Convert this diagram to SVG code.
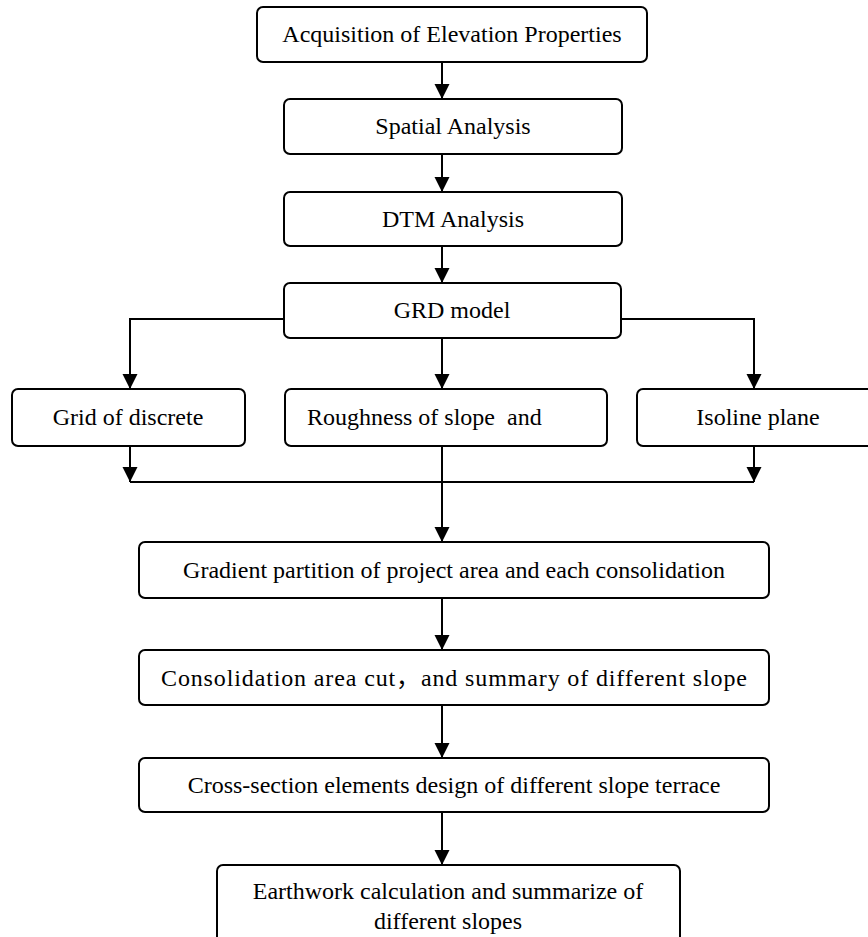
<svg xmlns="http://www.w3.org/2000/svg" width="868" height="937" viewBox="0 0 868 937">
  <style>
    .box { fill: #ffffff; stroke: #000000; stroke-width: 2; }
    .lbl { font-size: 24px; fill: #000000; }
    .mid { text-anchor: middle; }
    .ln { fill: none; stroke: #000000; stroke-width: 2; }
  </style>
  <defs>
    <marker id="ah" markerUnits="userSpaceOnUse" markerWidth="16" markerHeight="16" refX="15" refY="7.5" orient="auto">
      <path d="M0,0 L15,7.5 L0,15 Z" fill="#000000"/>
    </marker>
    <clipPath id="clipEarth">
      <rect x="217" y="865" width="463" height="72"/>
    </clipPath>
  </defs>
  <rect width="868" height="937" fill="#ffffff"/>

  <g id="connectors">
    <line class="ln" x1="442" y1="62" x2="442" y2="99" marker-end="url(#ah)"/>
    <line class="ln" x1="442" y1="154" x2="442" y2="192" marker-end="url(#ah)"/>
    <line class="ln" x1="442" y1="246" x2="442" y2="283" marker-end="url(#ah)"/>
    <polyline class="ln" points="284,319 130,319 130,389" marker-end="url(#ah)"/>
    <line class="ln" x1="442" y1="338" x2="442" y2="389" marker-end="url(#ah)"/>
    <polyline class="ln" points="621,319 754,319 754,389" marker-end="url(#ah)"/>
    <line class="ln" x1="130" y1="446" x2="130" y2="482" marker-end="url(#ah)"/>
    <line class="ln" x1="754" y1="446" x2="754" y2="482" marker-end="url(#ah)"/>
    <line class="ln" x1="130" y1="482" x2="754" y2="482"/>
    <line class="ln" x1="442" y1="446" x2="442" y2="542" marker-end="url(#ah)"/>
    <line class="ln" x1="442" y1="598" x2="442" y2="650" marker-end="url(#ah)"/>
    <line class="ln" x1="442" y1="705" x2="442" y2="758" marker-end="url(#ah)"/>
    <line class="ln" x1="442" y1="812" x2="442" y2="865" marker-end="url(#ah)"/>
  </g>

  <g font-family="'Liberation Serif', 'Times New Roman', serif">
  <g id="n1">
    <rect class="box" x="257" y="7" width="390" height="55" rx="6"/>
    <text class="lbl mid" x="452" y="42">Acquisition of Elevation Properties</text>
  </g>
  <g id="n2">
    <rect class="box" x="284" y="99" width="338" height="55" rx="6"/>
    <text class="lbl mid" x="453" y="134">Spatial Analysis</text>
  </g>
  <g id="n3">
    <rect class="box" x="284" y="192" width="338" height="54" rx="6"/>
    <text class="lbl mid" x="453" y="227">DTM Analysis</text>
  </g>
  <g id="n4">
    <rect class="box" x="284" y="283" width="337" height="55" rx="6"/>
    <text class="lbl mid" x="452" y="318">GRD model</text>
  </g>
  <g id="n5">
    <rect class="box" x="12" y="389" width="233" height="57" rx="6"/>
    <text class="lbl mid" x="128" y="425">Grid of discrete</text>
  </g>
  <g id="n6">
    <rect class="box" x="285" y="389" width="322" height="57" rx="6"/>
    <text class="lbl" x="307" y="425" xml:space="preserve">Roughness of slope  and</text>
  </g>
  <g id="n7">
    <rect class="box" x="637" y="389" width="242" height="57" rx="6"/>
    <text class="lbl mid" x="758" y="425">Isoline plane</text>
  </g>
  <g id="n8">
    <rect class="box" x="139" y="542" width="630" height="56" rx="6"/>
    <text class="lbl mid" x="454" y="578">Gradient partition of project area and each consolidation</text>
  </g>
  <g id="n9">
    <rect class="box" x="139" y="650" width="630" height="55" rx="6"/>
    <text class="lbl" x="161" y="686" textLength="586" lengthAdjust="spacing">Consolidation area cut<tspan font-family="'Noto Sans CJK SC', sans-serif">，</tspan>and summary of different slope</text>
  </g>
  <g id="n10">
    <rect class="box" x="139" y="758" width="630" height="54" rx="6"/>
    <text class="lbl mid" x="454" y="793">Cross-section elements design of different slope terrace</text>
  </g>
  <g id="n11">
    <rect class="box" x="217" y="865" width="463" height="90" rx="6"/>
    <g clip-path="url(#clipEarth)">
      <text class="lbl mid" x="448" y="899">Earthwork calculation and summarize of</text>
      <text class="lbl mid" x="448" y="929">different slopes</text>
    </g>
  </g>
  </g>
</svg>
